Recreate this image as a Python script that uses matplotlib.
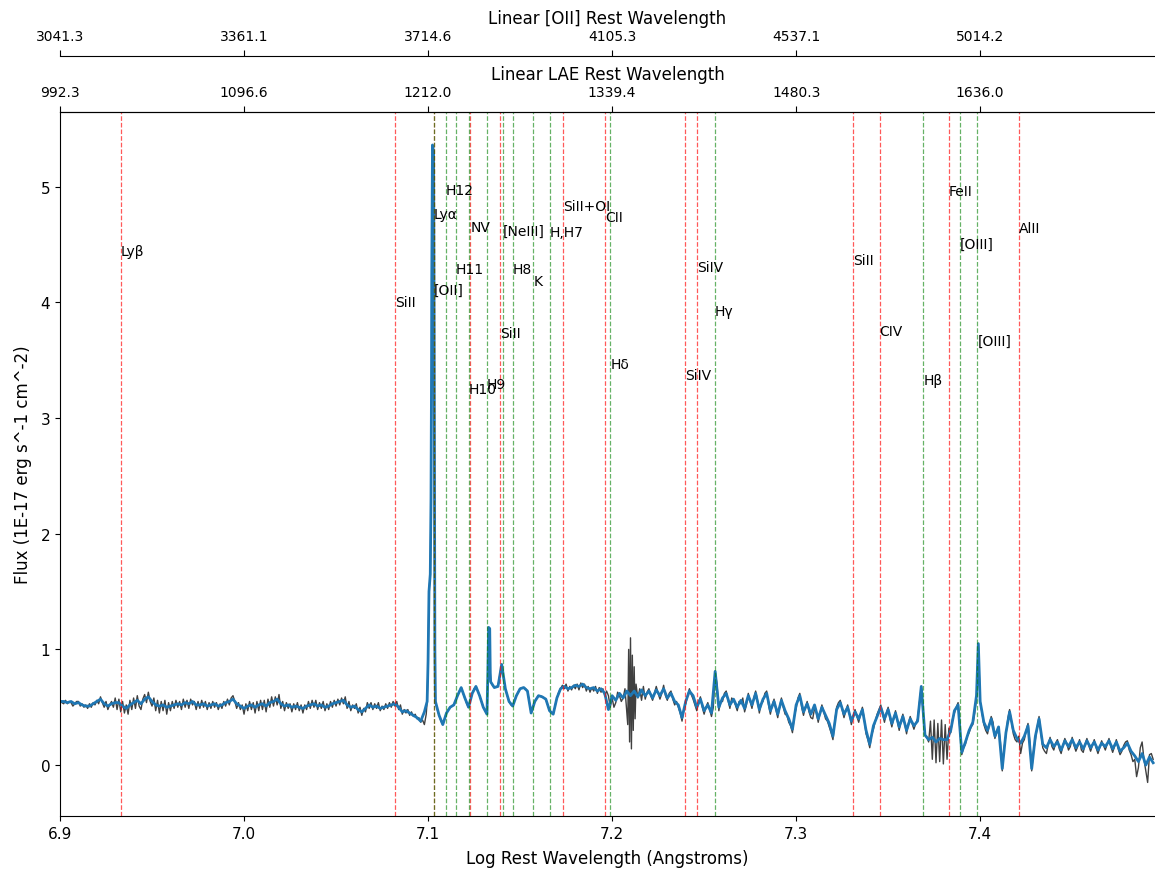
import numpy as np
import matplotlib
matplotlib.use('Agg')
import matplotlib.pyplot as plt

# ratio between the LAE and [OII] rest frames at the same observed wavelength
OII_FACTOR = 3.06497

# lines in the LAE rest frame (red)
lae_names = ['Lyβ', 'SiII', 'Lyα', 'NV', 'SiII', 'SiII+OI', 'CII', 'SiIV', 'SiIV',
             'SiII', 'CIV', 'FeII', 'AlII']
lae_waves = [1025.72, 1190.42, 1215.67, 1240.14, 1260.42, 1304.0, 1334.53, 1393.76,
             1402.77, 1526.71, 1549.06, 1608.45, 1670.79]
lae_label_y = [4.41, 3.97, 4.73, 4.62, 3.70, 4.80, 4.70, 3.34, 4.27, 4.33, 3.72, 4.93, 4.61]

# lines in the [OII] rest frame (green)
oii_names = ['[OII]', 'H12', 'H11', 'H10', 'H9', '[NeIII]', 'H8', 'K', 'H,H7', 'Hδ',
             'Hγ', 'Hβ', '[OIII]', '[OIII]']
oii_waves = [3727.09, 3750.15, 3770.63, 3797.90, 3835.38, 3868.76, 3889.05, 3933.66,
             3969.0, 4101.74, 4340.47, 4861.33, 4958.91, 5006.84]
oii_label_y = [4.07, 4.94, 4.25, 3.22, 3.26, 4.58, 4.25, 4.15, 4.57, 3.43, 3.89, 3.29,
               4.47, 3.63]

# smoothed spectrum, one value every 0.002 in log wavelength from 6.900 (5 per row)
smooth_start, smooth_step = 6.9, 0.002
flux_smooth = [
    .55, .55, .54, .55, .53,
    .54, .52, .51, .51, .53,
    .55, .57, .53, .51, .53,
    .54, .54, .51, .49, .52,
    .54, .56, .53, .57, .59,
    .55, .52, .51, .52, .50,
    .51, .52, .53, .52, .54,
    .53, .55, .52, .52, .53,
    .51, .52, .53, .51, .52,
    .54, .55, .57, .53, .51,
    .49, .51, .52, .50, .52,   # 7.00
    .53, .51, .54, .55, .57,
    .53, .51, .52, .50, .51,
    .50, .49, .51, .52, .53,
    .51, .52, .50, .51, .53,
    .54, .55, .56, .52, .50,
    .51, .48, .46, .49, .52,
    .50, .51, .49, .50, .51,
    .52, .53, .50, .46, .47,
    .45, .43, .41, .38, .46,
    .90, 4.20, .55, .43, .35,  # 7.10
    .45, .50, .52, .60, .67,
    .58, .50, .62, .68, .60,
    .50, .44, .72, .67, .68,
    .87, .66, .55, .51, .60,
    .66, .67, .64, .45, .55,
    .60, .59, .57, .47, .44,
    .58, .66, .68, .66, .67,
    .69, .68, .70, .67, .66,
    .67, .64, .66, .62, .48,
    .60, .56, .62, .58, .64,   # 7.20
    .60, .64, .59, .65, .60,
    .64, .58, .65, .60, .66,
    .58, .62, .55, .52, .41,
    .55, .64, .60, .50, .57,
    .47, .52, .45, .81, .50,
    .58, .62, .52, .57, .50,
    .56, .49, .60, .52, .62,
    .48, .57, .62, .47, .55,
    .44, .56, .47, .40, .31,
    .52, .60, .46, .53, .44,   # 7.30
    .52, .40, .50, .43, .36,
    .25, .48, .54, .44, .50,
    .38, .46, .40, .48, .30,
    .18, .34, .42, .50, .40,
    .48, .36, .45, .33, .42,
    .30, .40, .34, .38, .68,
    .26, .22, .24, .20, .23,
    .22, .22, .30, .47, .52,
    .11, .20, .30, .37, .60,
    .55, .37, .30, .40, .25,   # 7.40
    .33, -.03, .28, .46, .30,
    .23, .19, .25, .34, -.03,
    .25, .40, .18, .15, .22,
    .16, .20, .13, .21, .16,
    .22, .15, .20, .14, .21,
    .15, .20, .13, .19, .16,
    .21, .14, .20, .12, .15,
    .19, .12, .08, .03, .10,
    .00, .07, .02,
]

# raw spectrum, one value every 0.001 in log wavelength from 6.900 (10 per row)
raw_start, raw_step = 6.9, 0.001
flux_raw = [
    .56, .54, .53, .56, .53, .55, .54, .51, .53, .55,
    .55, .51, .53, .50, .52, .49, .53, .50, .54, .52,
    .56, .53, .59, .54, .50, .55, .48, .52, .55, .50,
    .58, .48, .57, .46, .55, .45, .52, .44, .56, .48,
    .58, .49, .60, .51, .48, .57, .61, .54, .63, .55,
    .51, .58, .47, .56, .45, .55, .47, .56, .44, .54,
    .47, .55, .49, .56, .50, .55, .48, .57, .50, .56,
    .49, .57, .52, .55, .48, .55, .49, .56, .50, .55,
    .48, .54, .49, .55, .50, .54, .48, .53, .49, .55,
    .51, .57, .52, .58, .60, .55, .49, .54, .48, .52,
    .44, .53, .47, .55, .48, .54, .45, .55, .47, .56,   # 7.00
    .48, .56, .46, .57, .50, .59, .51, .59, .52, .61,
    .49, .55, .47, .54, .49, .53, .46, .53, .48, .54,
    .47, .52, .45, .52, .48, .55, .49, .56, .50, .56,
    .48, .54, .49, .55, .47, .53, .48, .55, .50, .56,
    .51, .57, .52, .58, .53, .59, .49, .55, .47, .52,
    .49, .53, .45, .50, .43, .49, .46, .54, .49, .54,
    .48, .53, .49, .54, .47, .51, .48, .53, .49, .54,
    .50, .55, .51, .55, .48, .52, .44, .48, .45, .48,
    .43, .46, .42, .44, .40, .41, .37, .39, .35, .44,
    .90, 1.60, 4.20, 5.30, .55, .48, .43, .38, .35, .40,   # 7.10
    .45, .48, .50, .51, .52, .56, .60, .64, .67, .62,
    .58, .53, .50, .56, .62, .66, .68, .64, .60, .55,
    .50, .47, .44, 1.19, .72, .69, .67, .68, .68, .78,
    .87, .75, .66, .60, .55, .52, .51, .56, .60, .63,
    .66, .67, .67, .66, .64, .55, .45, .50, .55, .58,
    .60, .60, .59, .58, .57, .52, .47, .45, .44, .51,
    .58, .63, .66, .69, .66, .70, .64, .68, .65, .69,
    .66, .70, .65, .71, .67, .70, .64, .68, .63, .67,
    .64, .68, .62, .67, .63, .66, .60, .64, .60, .50,
    .58, .50, .54, .63, .60, .55, .58, .66, .45, 1.00,   # 7.20
    1.10, .95, .85, .70, .58, .66, .56, .68, .57, .63,
    .66, .60, .56, .62, .68, .62, .57, .62, .69, .60,
    .56, .62, .64, .57, .52, .55, .50, .45, .38, .48,
    .53, .60, .66, .61, .57, .52, .47, .55, .59, .50,
    .44, .50, .54, .48, .42, .50, .81, .70, .47, .55,
    .55, .62, .64, .56, .49, .58, .56, .52, .47, .55,
    .53, .58, .46, .52, .62, .55, .49, .58, .64, .56,
    .45, .53, .55, .62, .64, .52, .44, .52, .57, .48,
    .41, .50, .58, .50, .44, .43, .37, .34, .28, .42,
    .49, .58, .62, .50, .43, .50, .55, .46, .41, .40,   # 7.30
    .49, .45, .37, .45, .52, .46, .40, .38, .33, .28,
    .22, .38, .50, .54, .56, .48, .41, .47, .52, .44,
    .35, .42, .48, .42, .37, .44, .50, .40, .27, .22,
    .15, .26, .31, .38, .44, .48, .52, .44, .37, .45,
    .50, .40, .33, .40, .47, .38, .30, .38, .44, .36,
    .27, .36, .42, .36, .31, .36, .40, .54, .68, .45,
    .26, .24, .20, .38, .05, .39, .02, .36, .03, .39,
    .01, .35, .05, .32, .28, .40, .45, .50, .54, .30,
    .09, .15, .18, .25, .28, .33, .35, .45, .58, 1.05,
    .55, .45, .35, .30, .27, .35, .42, .37, .23, .28,   # 7.40
    .33, .20, -.05, .15, .26, .40, .48, .38, .27, .22,
    .20, .25, .10, .19, .22, .30, .36, .20, -.05, .12,
    .22, .33, .42, .28, .15, .12, .10, .18, .24, .16,
    .13, .19, .22, .14, .10, .17, .23, .19, .13, .16,
    .24, .17, .12, .16, .22, .13, .11, .18, .23, .17,
    .12, .17, .22, .15, .10, .15, .21, .17, .13, .18,
    .23, .16, .11, .16, .22, .14, .09, .12, .17, .20,
    .21, .13, .09, .03, .05, -.10, -.02, .15, .20, .05,
    -.05, -.15, .09, .10, .05,
]

# narrow emission peaks sampled finer than the grids (Lya, H9 region, [OIII])
peak_x = [7.0995, 7.1005, 7.1012, 7.1016, 7.1019, 7.1024, 7.1030, 7.1033, 7.1037,
          7.1325, 7.1329, 7.1335, 7.1338, 7.3990]
peak_y = [0.55, 1.50, 1.65, 2.30, 3.45, 5.36, 5.30, 3.80, 1.00,
          0.80, 1.19, 1.18, 0.80, 1.05]

# sky residual spike in the raw spectrum
spike_x = [7.2085, 7.2095, 7.2105, 7.2115, 7.2125]
spike_y = [0.35, 0.20, 0.14, 0.30, 0.40]

ticks = [6.9, 7.0, 7.1, 7.2, 7.3, 7.4]

assert len(flux_smooth) == 298 and len(flux_raw) == 595

sgrid = smooth_start + smooth_step * np.arange(len(flux_smooth))
rgrid = raw_start + raw_step * np.arange(len(flux_raw))

sx = np.concatenate([sgrid, peak_x])
sy = np.concatenate([flux_smooth, peak_y])
o = np.argsort(sx, kind='stable')
sx, sy = sx[o], sy[o]

rx = np.concatenate([rgrid, peak_x, spike_x])
ry = np.concatenate([flux_raw, peak_y, spike_y])
o = np.argsort(rx, kind='stable')
rx, ry = rx[o], ry[o]

fig = plt.figure(figsize=(11.55, 8.7), dpi=100)
ax = fig.add_axes([60 / 1155, 53 / 870, 1095 / 1155, 704 / 870])

ax.plot(rx, ry, color='k', lw=1, alpha=0.75)
ax.plot(sx, sy, color='C0', lw=2)

for w, name, ly in zip(lae_waves, lae_names, lae_label_y):
    lx = np.log(w)
    ax.axvline(lx, color='red', ls='--', lw=0.9, alpha=0.65)
    ax.text(lx, ly, name, fontsize=10)

for w, name, ly in zip(oii_waves, oii_names, oii_label_y):
    lx = np.log(w / OII_FACTOR)
    ax.axvline(lx, color='green', ls='--', lw=0.9, alpha=0.6)
    ax.text(lx, ly, name, fontsize=10)

ax.set_xlim(6.9, 7.495)
ax.set_ylim(-0.44, 5.645)
ax.set_xticks(ticks)
ax.set_xticklabels(['%.1f' % t for t in ticks])
ax.tick_params(labelsize=11)
ax.set_xlabel('Log Rest Wavelength (Angstroms)', fontsize=12, labelpad=6)
ax.set_ylabel('Flux (1E-17 erg s^-1 cm^-2)', fontsize=12, labelpad=6)
ax.spines['right'].set_visible(False)

# LAE rest wavelength on top
ax2 = ax.twiny()
ax2.set_xlim(ax.get_xlim())
ax2.set_xticks(ticks)
ax2.set_xticklabels(['%.1f' % np.exp(t) for t in ticks])
ax2.tick_params(labelsize=10, length=4.5, pad=5)
ax2.set_xlabel('Linear LAE Rest Wavelength', fontsize=12)
for s in ['left', 'right', 'bottom']:
    ax2.spines[s].set_visible(False)

# [OII] rest wavelength, offset above
ax3 = ax.twiny()
ax3.spines['top'].set_position(('outward', 40.5))
ax3.set_xlim(ax.get_xlim())
ax3.set_xticks(ticks)
ax3.set_xticklabels(['%.1f' % (np.exp(t) * OII_FACTOR) for t in ticks])
ax3.tick_params(labelsize=10, length=4.5, pad=5)
ax3.set_xlabel('Linear [OII] Rest Wavelength', fontsize=12)
for s in ['left', 'right', 'bottom']:
    ax3.spines[s].set_visible(False)

fig.savefig('out.png', dpi=100)
